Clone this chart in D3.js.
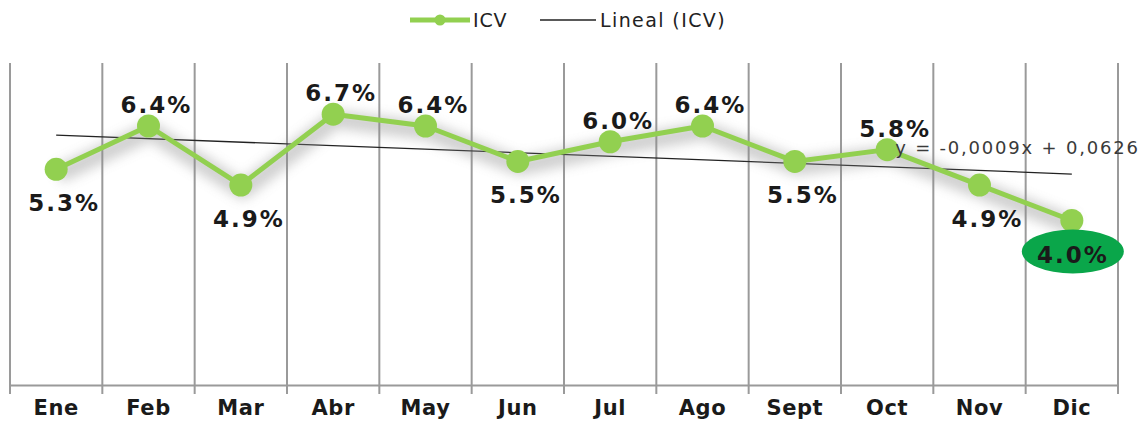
<!DOCTYPE html>
<html>
<head>
<meta charset="utf-8">
<script src="https://cdn.jsdelivr.net/npm/d3@7"></script>
<style>
  body { margin: 0; background: #fff; }
  svg { display: block; }
</style>
</head>
<body>
<div id="wrapper"></div>
<script>
const months = ["Ene", "Feb", "Mar", "Abr", "May", "Jun", "Jul", "Ago", "Sept", "Oct", "Nov", "Dic"]
const icv = [0.053, 0.064, 0.049, 0.067, 0.064, 0.055, 0.060, 0.064, 0.055, 0.058, 0.049, 0.040]
const labelSide = ["below", "above", "below", "above", "above", "below", "above", "above", "below", "above", "below", "below"]
const trendSlope = -0.0009
const trendIntercept = 0.0626
const trendText = "y = -0,0009x + 0,0626"

function drawChart() {
    const dimensions = {
        width: 1148,
        height: 422,
        margin: { top: 63, right: 30, bottom: 37, left: 10 },
    }
    dimensions.boundedWidth = dimensions.width - dimensions.margin.left - dimensions.margin.right
    dimensions.boundedHeight = dimensions.height - dimensions.margin.top - dimensions.margin.bottom

    const green = "#92d050"
    const textColor = "#1a1a1a"

    const wrapper = d3.select("#wrapper")
        .append("svg")
        .attr("width", dimensions.width)
        .attr("height", dimensions.height)

    const defs = wrapper.append("defs")
    defs.append("filter")
        .attr("id", "shadow")
        .attr("x", "-10%").attr("y", "-50%")
        .attr("width", "120%").attr("height", "200%")
        .append("feGaussianBlur")
        .attr("stdDeviation", 6)

    const bounds = wrapper.append("g")
        .attr("transform", `translate(${dimensions.margin.left},${dimensions.margin.top})`)

    const xScale = d3.scaleBand()
        .domain(months)
        .range([0, 1108])
        .padding(0)

    const yScale = d3.scaleLinear()
        .domain([0, 0.08])
        .range([315, 0])

    const xCenter = d => xScale(d) + xScale.bandwidth() / 2

    // vertical gridlines at category boundaries
    const bounds_x = months.map(m => xScale(m)).concat([xScale.range()[1]])
    bounds.append("g")
        .selectAll("line")
        .data(bounds_x)
        .join("line")
        .attr("x1", d => d).attr("x2", d => d)
        .attr("y1", 0)
        .attr("y2", dimensions.boundedHeight + 9)
        .attr("stroke", "#9a9a9a")
        .attr("stroke-width", 2)

    // x axis
    const xAxis = bounds.append("g")
        .attr("transform", `translate(0,${dimensions.boundedHeight})`)
        .call(d3.axisBottom(xScale).tickSize(0).tickPadding(16))
    xAxis.select(".domain")
        .attr("stroke", "#9a9a9a")
        .attr("stroke-width", 2)
    xAxis.selectAll("text")
        .attr("fill", textColor)
        .style("font-family", "DejaVu Sans, Verdana, sans-serif")
        .style("font-weight", "bold")
        .style("font-size", "21px")
        .style("letter-spacing", "0.6px")
        .attr("dy", "0.68em")

    // trend line
    const trendY = i => yScale(trendIntercept + trendSlope * (i + 1))
    bounds.append("line")
        .attr("x1", xCenter(months[0]))
        .attr("y1", trendY(0))
        .attr("x2", xCenter(months[months.length - 1]))
        .attr("y2", trendY(months.length - 1))
        .attr("stroke", "#222")
        .attr("stroke-width", 1.3)

    const lineGen = d3.line()
        .x((d, i) => xCenter(months[i]))
        .y(d => yScale(d))

    // soft shadow
    bounds.append("path")
        .datum(icv)
        .attr("d", lineGen)
        .attr("transform", "translate(2,5)")
        .attr("fill", "none")
        .attr("stroke", "#8a8a8a")
        .attr("stroke-width", 18)
        .attr("stroke-linejoin", "round")
        .attr("opacity", 0.4)
        .attr("filter", "url(#shadow)")

    bounds.append("path")
        .datum(icv)
        .attr("d", lineGen)
        .attr("fill", "none")
        .attr("stroke", green)
        .attr("stroke-width", 5)
        .attr("stroke-linejoin", "round")

    bounds.selectAll(".dot")
        .data(icv)
        .join("circle")
        .attr("class", "dot")
        .attr("cx", (d, i) => xCenter(months[i]))
        .attr("cy", d => yScale(d))
        .attr("r", 11.5)
        .attr("fill", green)

    // highlight ellipse on the last value
    const lastI = icv.length - 1
    bounds.append("ellipse")
        .attr("cx", xCenter(months[lastI]) + 1)
        .attr("cy", yScale(icv[lastI]) + 31)
        .attr("rx", 51)
        .attr("ry", 22)
        .attr("fill", "#0aa64a")

    // trend equation
    bounds.append("text")
        .attr("x", xCenter(months[9]) + 8)
        .attr("y", trendY(9) - 13)
        .attr("fill", "#3a3a3a")
        .style("font-family", "DejaVu Sans, Verdana, sans-serif")
        .style("font-size", "18px")
        .style("letter-spacing", "1.8px")
        .text(trendText)

    // data labels
    bounds.selectAll(".lbl")
        .data(icv)
        .join("text")
        .attr("class", "lbl")
        .attr("x", (d, i) => xCenter(months[i]) + (i === lastI ? 1 : 8))
        .attr("y", (d, i) => yScale(d) + (labelSide[i] === "above" ? -13 : 42))
        .attr("text-anchor", "middle")
        .attr("fill", textColor)
        .style("font-family", "DejaVu Sans, Verdana, sans-serif")
        .style("font-weight", "bold")
        .style("font-size", "23px")
        .style("letter-spacing", "2px")
        .text(d => d3.format(".1%")(d))

    // legend
    const legend = wrapper.append("g")
        .attr("transform", "translate(410,20)")
    legend.append("line")
        .attr("x1", 0).attr("x2", 60)
        .attr("stroke", green)
        .attr("stroke-width", 5)
    legend.append("circle")
        .attr("cx", 30).attr("r", 5.5)
        .attr("fill", green)
    legend.append("text")
        .attr("x", 63).attr("y", 7)
        .attr("fill", "#222")
        .style("font-family", "DejaVu Sans, Verdana, sans-serif")
        .style("font-size", "19px")
        .style("letter-spacing", "0.8px")
        .text("ICV")
    legend.append("line")
        .attr("x1", 130).attr("x2", 186)
        .attr("stroke", "#222")
        .attr("stroke-width", 1.3)
    legend.append("text")
        .attr("x", 190).attr("y", 7)
        .attr("fill", "#222")
        .style("font-family", "DejaVu Sans, Verdana, sans-serif")
        .style("font-size", "19px")
        .style("letter-spacing", "1.4px")
        .text("Lineal (ICV)")
}

drawChart()
</script>
</body>
</html>
